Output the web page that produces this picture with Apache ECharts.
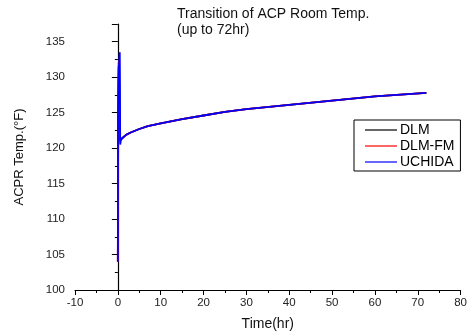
<!DOCTYPE html>
<html>
<head>
<meta charset="utf-8">
<script src="https://cdn.jsdelivr.net/npm/echarts@6/dist/echarts.min.js"></script>
<style>
  html, body { margin: 0; padding: 0; background: #fff; }
  #chart { width: 470px; height: 336px; }
</style>
</head>
<body>
<div id="chart"></div>
<script>
// time (hr) and temperature (°F)
const timeDLM = [0, 0.1, 0.2, 0.3, 0.45, 0.6, 0.8, 1, 2, 3, 5, 7, 10, 15, 20, 25, 30, 40, 50, 60, 72];
const tempDLM = [104, 127, 131.5, 132, 121, 120.8, 121.2, 121.4, 121.9, 122.2, 122.7, 123.1, 123.5, 124.1, 124.6, 125.1, 125.5, 126.1, 126.7, 127.3, 127.8];

const timeDLMFM = [0, 0.1, 0.2, 0.3, 0.45, 0.6, 0.8, 1, 2, 3, 5, 7, 10, 15, 20, 25, 30, 40, 50, 60, 72];
const tempDLMFM = [104, 128, 132, 132.3, 121, 120.8, 121.2, 121.4, 121.9, 122.2, 122.7, 123.1, 123.5, 124.1, 124.6, 125.1, 125.5, 126.1, 126.7, 127.3, 127.8];

const timeUCHIDA = [0, 0.05, 0.2, 0.45, 0.55, 0.7, 1, 2, 3, 5, 7, 10, 15, 20, 25, 30, 40, 50, 60, 72];
const tempUCHIDA = [104, 125, 131, 133.5, 120.5, 121.1, 121.4, 121.9, 122.2, 122.7, 123.1, 123.5, 124.1, 124.6, 125.1, 125.5, 126.1, 126.7, 127.3, 127.8];

const zip = (xs, ys) => xs.map((x, i) => [x, ys[i]]);

const myChart = echarts.init(document.getElementById("chart"));
myChart.setOption({
  animation: false,
  textStyle: { fontFamily: "Liberation Sans, Arial, sans-serif" },
  title: {
    text: "Transition of ACP Room Temp.\n(up to 72hr)",
    left: 172,
    top: 1,
    textStyle: { fontSize: 14, fontWeight: "normal", color: "#111", lineHeight: 16 },
  },
  legend: {
    orient: "vertical",
    left: 354,
    top: 120,
    padding: [3, 6, 2, 11],
    itemGap: 2,
    itemWidth: 32,
    itemHeight: 1.2,
    icon: "rect",
    borderColor: "#000",
    borderWidth: 1,
    textStyle: { fontSize: 14, color: "#000", padding: [0, 0, 0, -2] },
    data: ["DLM", "DLM-FM", "UCHIDA"],
  },
  grid: { left: 75, right: 4, top: 24, bottom: 45 },
  xAxis: {
    type: "value",
    min: -10,
    max: 80,
    interval: 10,
    name: "Time(hr)",
    nameLocation: "middle",
    nameGap: 27,
    nameTextStyle: { fontSize: 14, color: "#111" },
    splitLine: { show: false },
    axisLine: { lineStyle: { color: "#000", width: 1.2 } },
    axisTick: { length: 5, lineStyle: { color: "#000" } },
    minorTick: { show: true, splitNumber: 2, length: 3, lineStyle: { color: "#000" } },
    axisLabel: { fontSize: 11.5, color: "#222", margin: 7 },
  },
  yAxis: {
    type: "value",
    min: 100,
    max: 137.5,
    interval: 5,
    name: "ACPR Temp.(°F)",
    nameLocation: "middle",
    nameGap: 49,
    nameTextStyle: { fontSize: 13, color: "#111" },
    splitLine: { show: false },
    axisLine: { show: true, lineStyle: { color: "#000", width: 1.2 } },
    axisTick: { show: true, length: 6, lineStyle: { color: "#000" } },
    minorTick: { show: true, splitNumber: 2, length: 3, lineStyle: { color: "#000" } },
    axisLabel: { fontSize: 11.5, color: "#222", margin: 10, showMaxLabel: false },
  },
  series: [
    { name: "DLM", color: "#000000", data: zip(timeDLM, tempDLM) },
    { name: "DLM-FM", color: "#ff0000", data: zip(timeDLMFM, tempDLMFM) },
    { name: "UCHIDA", color: "#0000ff", data: zip(timeUCHIDA, tempUCHIDA) },
  ].map((obj) => ({
    ...obj,
    type: "line",
    symbol: "none",
    smooth: false,
    lineStyle: { width: 1.8 },
  })),
});
</script>
</body>
</html>
